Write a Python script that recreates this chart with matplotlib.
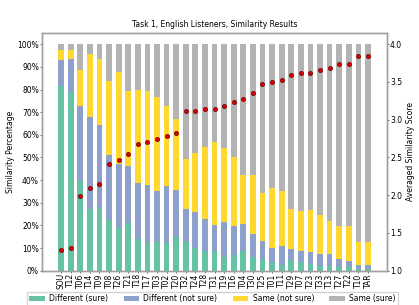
import matplotlib
matplotlib.use("Agg")
import matplotlib.pyplot as plt
import numpy as np
from matplotlib.ticker import PercentFormatter

categories = ["SOU", "T12", "T06", "T14", "T09", "T08", "T26", "T21", "T18", "T17",
              "T03", "T02", "T20", "T32", "T24", "T28", "T31", "T19", "T16", "T04",
              "T30", "T25", "T01", "T11", "T29", "T07", "T23", "T33", "T13", "T27",
              "T22", "T10", "TAR"]

# cumulative tops (percent)
green_top = [81.5, 78.8, 39.6, 27.1, 28.1, 22.3, 19.0, 21.1, 14.0, 12.2,
             12.6, 12.4, 15.0, 12.8, 9.9, 8.8, 8.8, 6.0, 6.9, 8.8,
             6.0, 5.2, 3.7, 2.5, 4.7, 3.7, 3.1, 2.2, 2.2, 1.5,
             1.5, 0.7, 0.7]
blue_top = [93.1, 93.5, 72.6, 68.0, 64.4, 51.2, 47.0, 46.4, 38.6, 37.8,
            35.3, 37.4, 35.6, 27.4, 25.8, 22.8, 20.3, 21.6, 19.7, 20.8,
            16.2, 13.3, 10.2, 10.8, 9.6, 8.7, 8.4, 7.5, 7.4, 5.2,
            4.3, 2.5, 2.5]
yellow_top = [97.5, 97.5, 88.8, 95.7, 93.5, 83.9, 87.9, 79.4, 79.7, 79.4,
              76.7, 72.7, 66.9, 49.2, 52.1, 54.8, 57.0, 54.1, 50.1, 42.3,
              42.3, 34.2, 36.7, 35.3, 27.1, 26.2, 26.8, 24.6, 22.0, 19.9,
              19.9, 12.8, 12.8]
scores = [1.28, 1.30, 1.99, 2.09, 2.145, 2.42, 2.46, 2.54, 2.68, 2.70,
          2.75, 2.78, 2.83, 3.11, 3.12, 3.14, 3.14, 3.18, 3.235, 3.28,
          3.36, 3.47, 3.50, 3.52, 3.59, 3.615, 3.615, 3.655, 3.685, 3.735,
          3.74, 3.84, 3.84]

labels = ["Different (sure)", "Different (not sure)", "Same (not sure)", "Same (sure)"]
colors = ["#66c2a5", "#8da0cb", "#ffd92f", "#b3b3b3"]

g = np.array(green_top) / 100
b = np.array(blue_top) / 100
y = np.array(yellow_top) / 100
segs = [g, b - g, y - b, 1 - y]
bottoms = [np.zeros_like(g), g, b, y]

fs = 5.5
plt.rcParams["font.family"] = "DejaVu Sans"
fig = plt.figure(figsize=(4.19, 3.05), dpi=100)
ax = fig.add_axes([0.100, 0.1125, 0.824, 0.7795])
x = np.arange(len(categories))
handles = []
for seg, bot, c, lab in zip(segs, bottoms, colors, labels):
    h = ax.bar(x, seg, bottom=bot, width=0.6, color=c, label=lab)
    handles.append(h)

ax.set_xlim(-2, len(categories) + 1)
ax.set_ylim(0, 1.05)
ax.set_yticks(np.arange(0, 1.01, 0.1))
ax.yaxis.set_major_formatter(PercentFormatter(1.0, decimals=0))
ax.set_xticks(x)
ax.set_xticklabels(categories, rotation=90, fontsize=fs)
ax.tick_params(axis="y", labelsize=fs, length=1.5, width=0.6, color="#555555", pad=0.6)
ax.tick_params(axis="x", length=1.5, width=0.6, color="#555555", pad=0.4)
ax.set_ylabel("Similarity Percentage", fontsize=fs, labelpad=1.5)
ax.set_title("Task 1, English Listeners, Similarity Results", fontsize=fs, pad=4)
for sp in ax.spines.values():
    sp.set_color("#a0a0a0")
    sp.set_linewidth(1.0)

ax2 = ax.twinx()
ax2.plot(x, scores, linestyle="none", marker="o", markersize=3.0,
         markerfacecolor="#dd0000", markeredgecolor="#6b0000", markeredgewidth=0.5)
ax2.set_ylim(1.0, 4.15)
ax2.set_yticks(np.arange(1.0, 4.01, 0.5))
ax2.tick_params(axis="y", labelsize=fs, length=1.5, width=0.6, color="#555555", pad=0.6)
ax2.set_ylabel("Averaged Similarity Score", fontsize=fs, labelpad=3)
for sp in ax2.spines.values():
    sp.set_color("#a0a0a0")
    sp.set_linewidth(1.0)

fig.legend(handles=handles, labels=labels, loc="upper left", ncol=4,
           bbox_to_anchor=(0.0637, 0.0436), fontsize=fs, frameon=True,
           handlelength=2.0, handleheight=0.7, handletextpad=0.6,
           columnspacing=2.0, borderaxespad=0, borderpad=0.35,
           fancybox=False, edgecolor="#cccccc")

fig.savefig("out.png", dpi=100)
